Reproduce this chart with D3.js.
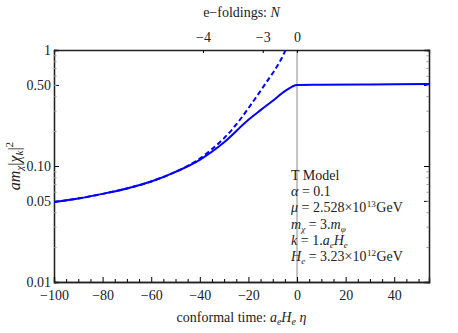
<!DOCTYPE html>
<meta charset="utf-8">
<head>
<style>
  body { margin: 0; background: #fff; }
  text { font-family: "Liberation Serif", "DejaVu Serif", serif; fill: #222; }
</style>
</head>
<body>
<div id="my_dataviz"></div>
<script src="https://d3js.org/d3.v7.min.js"></script>
<script>

// conformal time values (a_e H_e eta) and |chi_k|^2 curves
var etaSolid = [-100, -90, -80, -70, -60, -50, -40, -30, -20, -15, -10, -5, -2, 0, 10, 30, 54.3];
var solidValues = [0.049, 0.0525, 0.0575, 0.064, 0.0735, 0.089, 0.113, 0.16, 0.25, 0.303, 0.365, 0.442, 0.484, 0.50, 0.502, 0.504, 0.508];

var etaDashed = [-100, -90, -80, -70, -60, -50, -45, -40, -35, -30, -25, -20, -15, -12, -9, -7, -5.5, -4.5];
var dashedValues = [0.049, 0.0525, 0.0575, 0.064, 0.0735, 0.089, 0.1, 0.116, 0.14, 0.174, 0.228, 0.315, 0.445, 0.55, 0.68, 0.8, 0.92, 1.02];

// tick labels
var yTickValues = [0.01, 0.05, 0.1, 0.5, 1];
var yTickLabels = ["0.01", "0.05", "0.10", "0.50", "1"];
var xTickValues = [-100, -80, -60, -40, -20, 0, 20, 40];
var topTickLabels = ["\u22124", "\u22123", "0"];
var topTickEta = [-38.7, -14.1, 0];   // where the e-folding ticks sit on the time axis

var margin = {top: 50, right: 29, bottom: 51, left: 54},
    width = 458 - margin.left - margin.right,
    height = 333 - margin.top - margin.bottom;

var svg = d3.select("#my_dataviz")
  .append("svg")
    .attr("width", 458)
    .attr("height", 333)
  .append("g")
    .attr("transform", "translate(" + margin.left + "," + margin.top + ")");

var x = d3.scaleLinear().domain([-100, 54.3]).range([0, width]);
var y = d3.scaleLog().domain([0.01, 1]).range([height, 0]);

svg.append("clipPath").attr("id", "clip")
  .append("rect").attr("width", width).attr("height", height);

// vertical line at end of inflation
svg.append("line")
  .attr("x1", x(0)).attr("x2", x(0))
  .attr("y1", 0).attr("y2", height)
  .attr("stroke", "#b0b0b0").attr("stroke-width", 1.5);

var minorY = [];
[0.01, 0.1].forEach(function(d) {
  for (var i = 2; i <= 9; i++) minorY.push(d * i);
});
var minorX = d3.range(-100, 55, 5).filter(function(d) { return d % 20 !== 0; });

// left axis
var leftAx = svg.append("g")
  .call(d3.axisLeft(y).tickValues(yTickValues).tickSize(-5).tickPadding(4)
    .tickFormat(function(d, i) { return yTickLabels[i]; }));
leftAx.selectAll("text").style("font-size", "14px").attr("x", -3);
leftAx.append("g").call(d3.axisLeft(y).tickValues(minorY).tickSize(-2.5).tickFormat(""))
  .selectAll(".tick line").attr("stroke", "#999");

// right axis
var rightAx = svg.append("g").attr("transform", "translate(" + width + ",0)")
  .call(d3.axisRight(y).tickValues(yTickValues).tickSize(-5).tickFormat(""));
rightAx.append("g").call(d3.axisRight(y).tickValues(minorY).tickSize(-2.5).tickFormat(""))
  .selectAll(".tick line").attr("stroke", "#999");

// bottom axis
var bottomAx = svg.append("g").attr("transform", "translate(0," + height + ")")
  .call(d3.axisBottom(x).tickValues(xTickValues).tickSize(-5).tickPadding(8)
    .tickFormat(function(d) { return d < 0 ? "\u2212" + (-d) : d; }));
bottomAx.selectAll("text").style("font-size", "14px");
bottomAx.append("g").call(d3.axisBottom(x).tickValues(minorX).tickSize(-3).tickFormat(""));

// top axis: e-foldings
var topAx = svg.append("g")
  .call(d3.axisTop(x).tickValues(topTickEta).tickSize(-3).tickPadding(8)
    .tickFormat(function(d, i) { return topTickLabels[i]; }));
topAx.selectAll("text").style("font-size", "14px");

svg.selectAll(".domain").attr("stroke", "#222").attr("stroke-width", 1.3);

var line = d3.line()
  .x(function(d) { return x(d[0]); })
  .y(function(d) { return y(d[1]); })
  .curve(d3.curveMonotoneX);

svg.append("path")
  .datum(d3.zip(etaDashed, dashedValues))
  .attr("clip-path", "url(#clip)")
  .attr("fill", "none").attr("stroke", "#0000ff").attr("stroke-width", 2)
  .attr("stroke-dasharray", "5,3")
  .attr("d", line);

svg.append("path")
  .datum(d3.zip(etaSolid, solidValues))
  .attr("clip-path", "url(#clip)")
  .attr("fill", "none").attr("stroke", "#0000ff").attr("stroke-width", 2)
  .attr("d", line);

// axis titles
var xt = svg.append("text").attr("x", width / 2).attr("y", height + 40)
  .attr("text-anchor", "middle").style("font-size", "14px");
xt.append("tspan").text("conformal time: ");
xt.append("tspan").style("font-style", "italic").text("a");
xt.append("tspan").style("font-style", "italic").style("font-size", "10px").attr("dy", 3).text("e");
xt.append("tspan").style("font-style", "italic").attr("dy", -3).text("H");
xt.append("tspan").style("font-style", "italic").style("font-size", "10px").attr("dy", 3).text("e");
xt.append("tspan").style("font-style", "italic").attr("dy", -3).text(" \u03b7");

var tt = svg.append("text").attr("x", width / 2).attr("y", -33)
  .attr("text-anchor", "middle").style("font-size", "14px");
tt.append("tspan").text("e\u2212foldings: ");
tt.append("tspan").style("font-style", "italic").text("N");

var yt = svg.append("text")
  .attr("transform", "translate(-34," + (height / 2) + ") rotate(-90)")
  .attr("text-anchor", "middle").style("font-size", "16px");
yt.append("tspan").style("font-style", "italic").text("am");
yt.append("tspan").style("font-style", "italic").style("font-size", "11px").attr("dy", 3).text("\u03c7");
yt.append("tspan").attr("dy", -3).text("|");
yt.append("tspan").style("font-style", "italic").text("\u03c7");
yt.append("tspan").style("font-style", "italic").style("font-size", "11px").attr("dy", 3).text("k");
yt.append("tspan").attr("dy", -3).text("|");
yt.append("tspan").style("font-size", "11px").attr("dy", -7).text("2");

// parameter annotation
var note = svg.append("g").attr("transform", "translate(" + (x(0) - 6) + ",130)")
  .style("font-size", "14px");
function noteLine(i, parts) {
  var t = note.append("text").attr("y", i * 16.2);
  parts.forEach(function(p) {
    var s = t.append("tspan").text(p[0]);
    if (p[1] === "i") s.style("font-style", "italic");
    if (p[1] === "iup") s.style("font-style", "italic").attr("dy", -3);
    if (p[1] === "sub") s.style("font-style", "italic").style("font-size", "9px").attr("dy", 3);
    if (p[1] === "up") s.attr("dy", -3);
    if (p[1] === "sup") s.style("font-size", "9px").attr("dy", -5).attr("dx", 0.5);
    if (p[1] === "down") s.attr("dy", 5).attr("dx", 0.5);
  });
}
noteLine(0, [["T Model"]]);
noteLine(1, [["\u03b1", "i"], [" = 0.1"]]);
noteLine(2, [["\u03bc", "i"], [" = 2.528\u00d710"], ["13", "sup"], ["GeV", "down"]]);
noteLine(3, [["m", "i"], ["\u03c7", "sub"], [" = 3.", "up"], ["m", "i"], ["\u03c6", "sub"]]);
noteLine(4, [["k", "i"], [" = 1."], ["a", "i"], ["e", "sub"], ["H", "iup"], ["e", "sub"]]);
noteLine(5, [["H", "i"], ["e", "sub"], [" = 3.23\u00d710", "up"], ["12", "sup"], ["GeV", "down"]]);

</script>
</body>
